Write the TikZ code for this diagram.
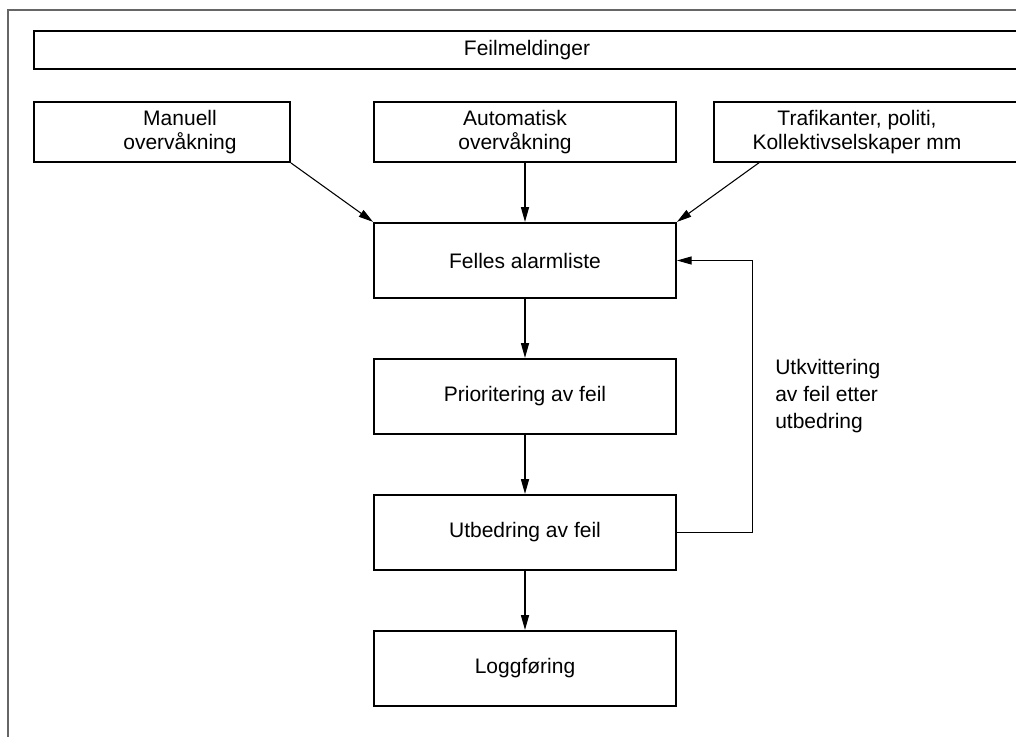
\documentclass[tikz,border=0pt]{standalone}
\usepackage{fontspec}
\setmainfont{Liberation Sans}
\usetikzlibrary{arrows.meta}

\begin{document}
\begin{tikzpicture}[x=0.75pt,y=-0.75pt,
  boks/.style={draw, line width=1.4pt, rectangle, inner sep=0pt,
    font=\fontsize{15.75}{18}\selectfont, align=center},
  rad/.style={boks, minimum width=226.5pt, minimum height=45pt},
  kol/.style={boks, minimum width=226.5pt, minimum height=56.5pt},
  tekst/.style={font=\fontsize{15.75}{18}\selectfont, align=center, inner sep=0pt},
  pil/.style={line width=0.8pt, -{Triangle[length=11pt,width=6pt]}}]
\useasboundingbox (0,0) rectangle (1016,736);
\clip (0,0) rectangle (1016,736);

% ramme
\draw[line width=1.5pt, black!60] (8,10) rectangle (1016.5,760);

% kilder
\node[boks, minimum width=739.5pt, minimum height=28.5pt] (feil) at (527,50) {Feilmeldinger};
\node[rad, minimum width=192pt, label={[tekst,xshift=13.5pt]center:Manuell\\overvåkning}] (manuell) at (162,132) {};
\node[rad, label={[tekst,xshift=-7.5pt]center:Automatisk\\overvåkning}] (auto) at (525,132) {};
\node[rad, minimum width=229.5pt, label={[tekst,xshift=-7.5pt]center:Trafikanter, politi,\\Kollektivselskaper mm}] (trafikk) at (867,132) {};
\coordinate (trafikkfot) at (760,162);

% behandling
\node[kol] (felles) at (525,260.5) {Felles alarmliste};
\node[kol] (prio) at (525,396.5) {Prioritering av feil};
\node[kol] (utbed) at (525,532.5) {Utbedring av feil};
\node[kol] (logg) at (525,668.5) {Loggføring};

\node[tekst, font=\fontsize{15.75}{20}\selectfont, anchor=west, align=left] (kvitt) at (775,396) {Utkvittering\\av feil etter\\utbedring};

\draw[pil] (manuell.south east) -- (felles.north west);
\draw[pil] (auto) -- (felles);
\draw[pil] (trafikkfot) -- (felles.north east);
\draw[pil] (felles) -- (prio);
\draw[pil] (prio) -- (utbed);
\draw[pil] (utbed) -- (logg);
\draw[pil] (utbed.east) -- ++(76,0) |- (felles.east);
\end{tikzpicture}
\end{document}
